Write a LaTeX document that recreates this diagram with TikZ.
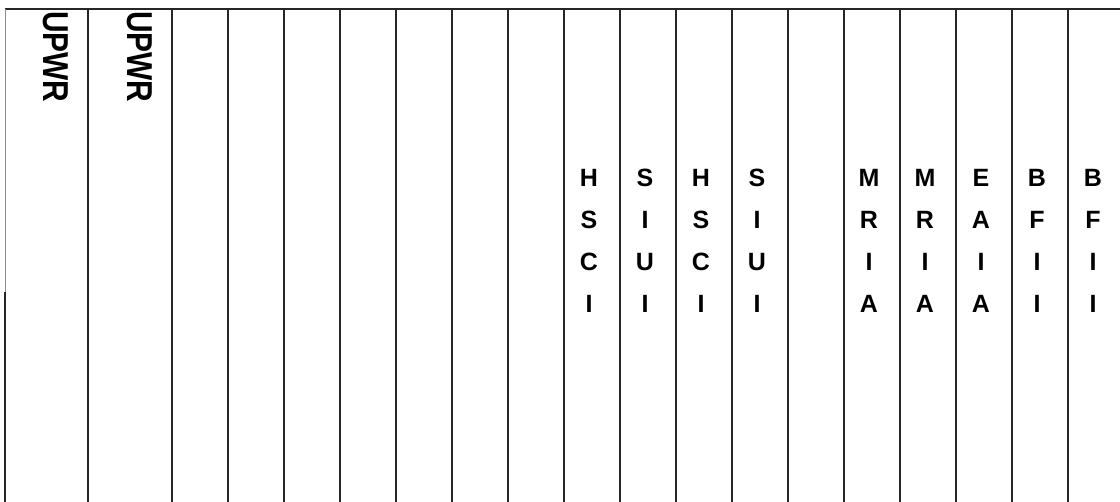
\documentclass[tikz,border=0pt]{standalone}
\usepackage{fontspec}
\setmainfont{Liberation Sans}
\usetikzlibrary{positioning}
\tikzset{
  frame_line/.style={line width=2pt, draw=black!85},
  frame_faint/.style={line width=1pt, draw=black!45},
  slot_line/.style={line width=2.6pt, draw=black!85},
  slot_letter/.style={font=\fontsize{25}{25}\selectfont\bfseries, inner sep=0pt, anchor=base},
  upwr_label/.style={font=\fontsize{36}{36}\selectfont\bfseries, inner sep=0pt, anchor=base west, rotate=-90}
}
% four stacked letters in one slot: name, x, letters
\newcommand{\slotlabel}[6]{%
  \node[slot_letter] (#1_1) at (#2,187) {#3};
  \node[slot_letter] (#1_2) at (#2,229) {#4};
  \node[slot_letter] (#1_3) at (#2,271) {#5};
  \node[slot_letter] (#1_4) at (#2,313) {#6};
}

\begin{document}
\begin{tikzpicture}[x=1pt, y=-1pt]
  \useasboundingbox (0,0) rectangle (1120,502);

  % chassis outline
  \draw[frame_line] (5,9) -- (1120,9);
  \draw[frame_faint] (5,9) -- (5,292);
  \draw[slot_line] (5,292) -- (5,502);

  % slot dividers
  \foreach \x in {88,172,228,...,1068}
    \draw[slot_line] (\x,9) -- (\x,502);

  % power supplies
  \node[upwr_label] (upwr_a) at (43,11) {\scalebox{0.83}[1]{UPWR}};
  \node[upwr_label] (upwr_b) at (127,11) {\scalebox{0.83}[1]{UPWR}};

  % cards
  \slotlabel{hsci_a}{589}{H}{S}{C}{I}
  \slotlabel{siui_a}{645}{S}{I}{U}{I}
  \slotlabel{hsci_b}{701}{H}{S}{C}{I}
  \slotlabel{siui_b}{757}{S}{I}{U}{I}
  \slotlabel{mria_a}{869}{M}{R}{I}{A}
  \slotlabel{mria_b}{925}{M}{R}{I}{A}
  \slotlabel{eaia}{981}{E}{A}{I}{A}
  \slotlabel{bfii_a}{1037}{B}{F}{I}{I}
  \slotlabel{bfii_b}{1093}{B}{F}{I}{I}
\end{tikzpicture}
\end{document}
